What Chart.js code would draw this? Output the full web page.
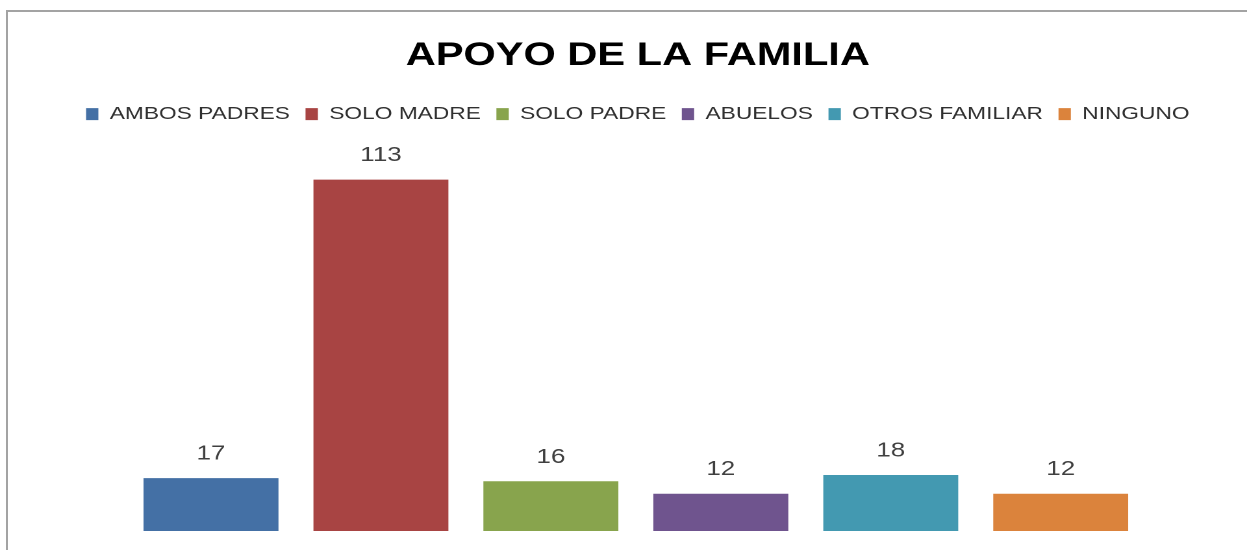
<!DOCTYPE HTML>
<html lang="es">
<head>
    <meta charset="UTF-8">
    <title>Apoyo de la familia</title>
    <script src="https://cdn.jsdelivr.net/npm/chart.js"></script>
    <style>
        html, body { margin: 0; padding: 0; background: #fff; overflow: hidden; }
        /* marco gris del gráfico (sale por la derecha y por abajo) */
        #frame {
            position: absolute; left: 6px; top: 10px;
            width: 1300px; height: 600px;
            border: 2px solid #a3a3a3;
        }
        #chart { position: absolute; left: 0; top: 0; }
    </style>
</head>
<body>
<div id="frame"></div>
<!-- el original está estirado en horizontal, así que se estira el lienzo -->
<canvas id="chart" width="960" height="550" style="width:1247px;height:550px"></canvas>

<script>
    // datos del gráfico
    const categories = ['AMBOS PADRES', 'SOLO MADRE', 'SOLO PADRE', 'ABUELOS', 'OTROS FAMILIAR', 'NINGUNO'];
    const values = [17, 113, 16, 12, 18, 12];
    const colors = ['#4470A5', '#A84443', '#88A44D', '#6F548E', '#4399B1', '#DB833C'];

    // etiquetas con el valor encima de cada barra
    const valueLabels = {
        id: 'valueLabels',
        afterDatasetsDraw(chart) {
            const ctx = chart.ctx;
            ctx.save();
            ctx.font = '20px "Liberation Sans", Arial, sans-serif';
            ctx.fillStyle = '#404040';
            ctx.textAlign = 'center';
            ctx.textBaseline = 'middle';
            chart.data.datasets.forEach((ds, i) => {
                const bar = chart.getDatasetMeta(i).data[0];
                ctx.fillText(String(ds.data[0]), bar.x, bar.y - 24);
            });
            ctx.restore();
        }
    };

    // espacio extra bajo la leyenda
    const legendSpace = {
        id: 'legendSpace',
        beforeInit(chart) {
            const fit = chart.legend.fit;
            chart.legend.fit = function () {
                fit.bind(chart.legend)();
                this.height += 25;
            };
        }
    };

    // ejes invisibles que solo reservan margen a los lados
    const hiddenAxis = (pos, w) => ({
        display: true,
        position: pos,
        min: 0,
        max: 120,
        grid: { display: false },
        border: { display: false },
        ticks: { display: false },
        afterFit(scale) { scale.width = w; }
    });

    const ctx = document.getElementById('chart').getContext('2d');
    new Chart(ctx, {
        type: 'bar',
        data: {
            labels: [''],
            datasets: categories.map((name, i) => ({
                label: name,
                data: [values[i]],
                backgroundColor: colors[i],
                borderWidth: 0
            }))
        },
        options: {
            responsive: false,
            devicePixelRatio: 2,
            animation: false,
            datasets: {
                bar: { categoryPercentage: 1, barPercentage: 0.794 }
            },
            layout: {
                padding: { left: 22, right: 0, top: 0, bottom: 19 }
            },
            scales: {
                x: { display: false },
                y: hiddenAxis('left', 75),
                y2: hiddenAxis('right', 78)
            },
            plugins: {
                title: {
                    display: true,
                    text: 'APOYO DE LA FAMILIA',
                    color: '#000',
                    font: { family: '"Liberation Sans", Arial, sans-serif', size: 32, weight: 'bold' },
                    padding: { top: 37, bottom: 18 }
                },
                legend: {
                    display: true,
                    position: 'top',
                    labels: {
                        color: '#303030',
                        font: { family: '"Liberation Sans", Arial, sans-serif', size: 17.5 },
                        boxWidth: 9.5,
                        boxHeight: 12,
                        padding: 12
                    }
                },
                tooltip: { enabled: false }
            }
        },
        plugins: [valueLabels, legendSpace]
    });
</script>
</body>
</html>
